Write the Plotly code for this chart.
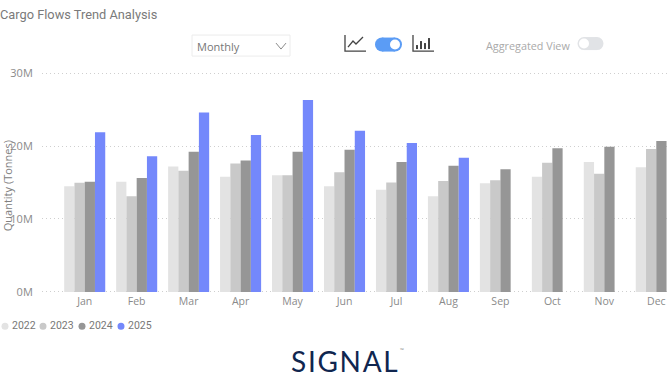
import plotly.graph_objects as go

months = ["Jan","Feb","Mar","Apr","May","Jun","Jul","Aug","Sep","Oct","Nov","Dec"]
y2022 = [14.5,15.1,17.2,15.8,16.0,14.5,14.0,13.1,14.9,15.8,17.8,17.1]
y2023 = [14.95,13.1,16.6,17.6,16.0,16.4,15.0,15.2,15.3,17.7,16.2,19.6]
y2024 = [15.1,15.6,19.2,18.0,19.2,19.5,17.8,17.3,16.8,19.7,19.9,20.7]
y2025 = [21.9,18.6,24.6,21.5,26.3,22.1,20.4,18.4]
years = ["2022","2023","2024","2025"]
colors = ["#e3e3e3","#c9c9c9","#969696","#7488fb"]
series = [y2022,y2023,y2024,y2025]
yticks = [0,10,20,30]
yticklabels = ["0M","10M","20M","30M"]
title = "Cargo Flows Trend Analysis"
ytitle = "Quantity (Tonnes)"

W,H = 670,380
L,R,T,B = 42,0,71.9,87.4
def px(x): return (x-L)/(W-L-R)
def py(y): return 1-(y-T)/(H-T-B)

fig = go.Figure()
for name,vals,c in zip(years,series,colors):
    fig.add_bar(x=months[:len(vals)],y=vals,name=name,marker=dict(color=c,line_width=0))

shapes=[]; ann=[]
def rect(x0,y0,x1,y1,fill=None,line=None,lw=1):
    shapes.append(dict(type="rect",xref="paper",yref="paper",x0=px(x0),x1=px(x1),y0=py(y0),y1=py(y1),
        fillcolor=fill or "rgba(0,0,0,0)",line=dict(color=line or "rgba(0,0,0,0)",width=lw if line else 0)))
def circ(x,y,r,fill):
    shapes.append(dict(type="circle",xref="paper",yref="paper",x0=px(x-r),x1=px(x+r),y0=py(y-r),y1=py(y+r),
        fillcolor=fill,line=dict(width=0)))
def poly(pts,color,lw=1.5):
    d="M"+" L".join(f"{px(a):.5f},{py(b):.5f}" for a,b in pts)
    shapes.append(dict(type="path",xref="paper",yref="paper",path=d,line=dict(color=color,width=lw)))
def text(x,y,s,size,color,family="Open Sans",anchor="left",**k):
    ann.append(dict(xref="paper",yref="paper",x=px(x),y=py(y),text=s,showarrow=False,xanchor=anchor,yanchor="middle",
        font=dict(size=size,color=color,family=family),**k))

text(-2,14,title,12.8,"#7a7a7a","Roboto")
text(7,186,ytitle,11,"#808080","Open Sans",anchor="center",textangle=-90)
# dropdown
rect(192,35,290,56,line="#ececec")
text(195,46.5,"Monthly",11,"#777777")
poly([(276,43),(281,49),(286,43)],"#8a8a8a",1)
# line icon
poly([(345,35),(345,51),(366,51)],"#444444",1.3)
poly([(348,47),(353,41),(356,44),(363,37)],"#444444",1.3)
# main toggle
circ(382,44.5,7,"#5b9cf5"); circ(395,44.5,7,"#5b9cf5"); rect(382,37.5,395,51.5,fill="#5b9cf5")
circ(395,44.5,5,"#ffffff")
# bar icon
poly([(413,35),(413,51),(434,51)],"#444444",1.3)
for xb,top in [(417,45),(421,41),(425,43),(429,38)]:
    poly([(xb,49),(xb,top)],"#444444",2)
# aggregated toggle
text(484,45,"Aggregated View",10.8,"#aaaaaa")
circ(584,43.5,6.5,"#e1e3e6"); circ(597,43.5,6.5,"#e1e3e6"); rect(584,37,597,50,fill="#e1e3e6")
circ(584,43.5,5,"#ffffff")
# legend
for x0,name,c in zip([5,43,82,121],years,colors):
    circ(x0,325.7,3.5,c)
    text(x0+4.5,325,name,10.5,"#777777","Roboto")
# logo
text(289,360.5,'<span style="letter-spacing:1.7px">SIGNAL</span>',28,"#10264f","Lato")
text(398,350,"™",5,"#888888")

fig.update_layout(
    width=W,height=H,margin=dict(l=L,r=R,t=T,b=B,autoexpand=False),
    paper_bgcolor="white",plot_bgcolor="white",barmode="group",bargap=0.21,bargroupgap=0,
    showlegend=False,shapes=shapes,annotations=ann,
    xaxis=dict(type="category",categoryorder="array",categoryarray=months,range=[-0.822,11.264],tickmode="array",
        tickvals=months,ticktext=months,ticks="",showgrid=False,zeroline=False,showline=False,
        tickfont=dict(size=10.5,color="#8a8a8a",family="Open Sans")),
    yaxis=dict(range=[-0.15,30.15],tickmode="array",tickvals=yticks,ticktext=yticklabels,ticks="outside",ticklen=6,tickcolor="rgba(0,0,0,0)",
        showgrid=True,gridcolor="#cfcfcf",griddash="1px,3px",gridwidth=1,zeroline=False,showline=False,
        tickfont=dict(size=11,color="#8a8a8a",family="Open Sans")),
)
fig.write_html("out.html",config=dict(displayModeBar=False),post_script="document.body.style.margin='0';")
